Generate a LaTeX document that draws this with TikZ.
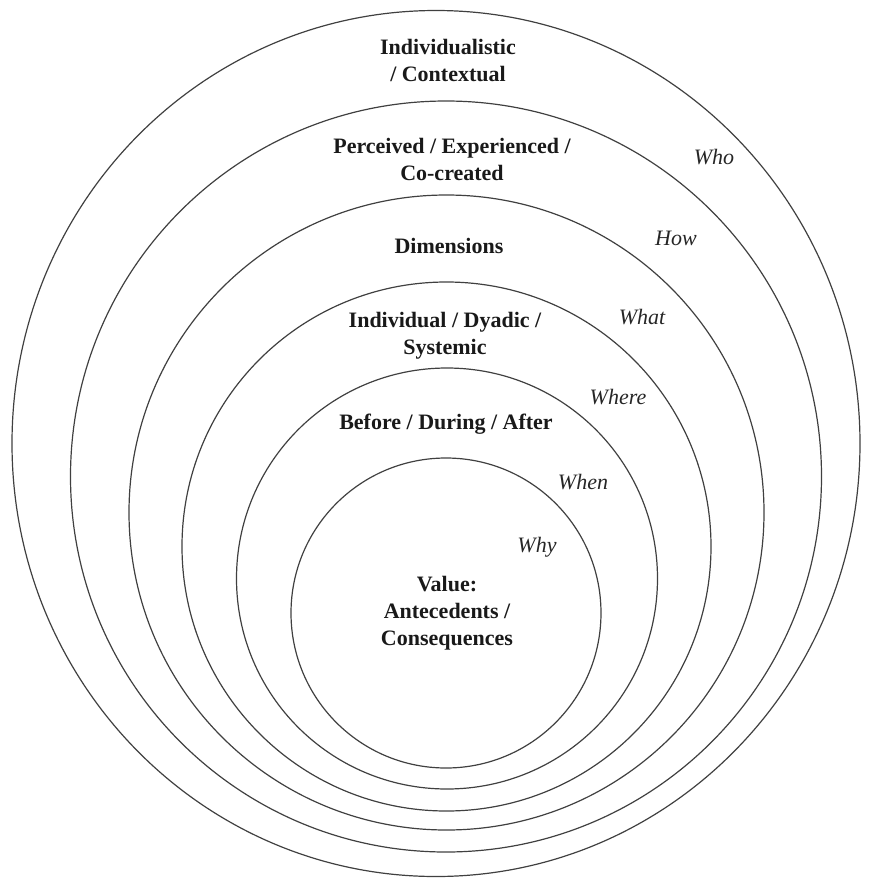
\documentclass[tikz,border=0pt]{standalone}
\usepackage{fontspec}
\setmainfont{Liberation Serif}
\begin{document}
\begin{tikzpicture}[x=1pt,y=-1pt,
  ring/.style={draw=black!75, line width=1.2pt},
  lab/.style={font=\bfseries\fontsize{22}{27}\selectfont, align=center, inner sep=0pt, text=black!90},
  q/.style={font=\itshape\fontsize{22}{27}\selectfont, inner sep=0pt, text=black!85}]
\useasboundingbox (0,0) rectangle (872,879);
\draw[ring] (436,443.5) ellipse [x radius=424, y radius=433];
\draw[ring] (446,476.5) circle [radius=375.5];
\draw[ring] (446.5,512.5) circle [radius=317.5];
\draw[ring] (446.5,546.5) circle [radius=264.5];
\draw[ring] (447,578.5) circle [radius=210.5];
\draw[ring] (446,613) circle [radius=155];
\node[lab] (t1) at (448,60.5) {Individualistic\\/ Contextual};
\node[lab] (t2) at (452,159.5) {Perceived / Experienced /\\Co-created};
\node[lab] (t3) at (449,246) {Dimensions};
\node[lab] (t4) at (445,335.5) {Individual / Dyadic /\\Systemic};
\node[lab] (t5) at (446,424) {Before / During / After};
\node[lab] (t6) at (447,613.5) {Value:\\Antecedents /\\Consequences};
\node[q] (who) at (714,157) {Who};
\node[q] (how) at (676,238) {How};
\node[q] (what) at (642,317) {What};
\node[q] (where) at (618,397) {Where};
\node[q] (when) at (583,482) {When};
\node[q] (why) at (537,547) {Why};
\end{tikzpicture}
\end{document}
